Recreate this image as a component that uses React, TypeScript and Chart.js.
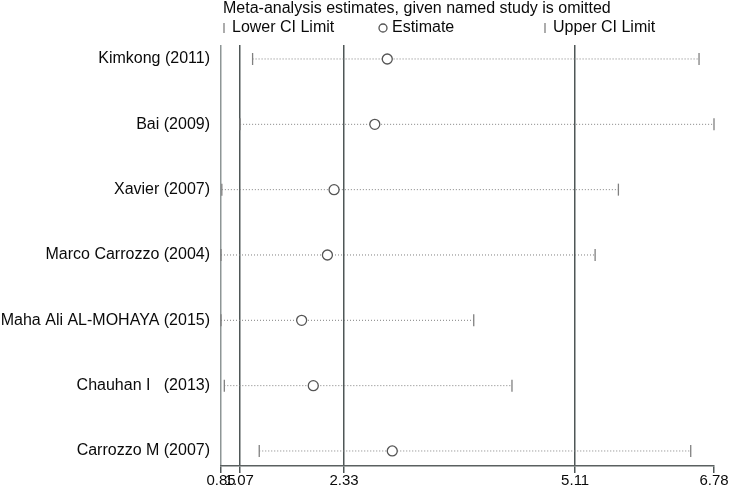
import { useEffect, useRef } from "react";
import { Chart, registerables } from "chart.js";

Chart.register(...registerables);

const titleText = "Meta-analysis estimates, given named study is omitted";
const studies = [
  "Kimkong (2011)",
  "Bai (2009)",
  "Xavier (2007)",
  "Marco Carrozzo (2004)",
  "Maha Ali AL-MOHAYA (2015)",
  "Chauhan I   (2013)",
  "Carrozzo M (2007)",
];
const lowerCI = [1.23, 1.08, 0.86, 0.85, 0.85, 0.89, 1.31];
const estimate = [2.85, 2.7, 2.21, 2.13, 1.82, 1.96, 2.91];
const upperCI = [6.6, 6.78, 5.63, 5.35, 3.89, 4.35, 6.5];
const xTicks = [0.85, 1.07, 2.33, 5.11, 6.78];
const legendLabels = ["Lower CI Limit", "Estimate", "Upper CI Limit"];

const FONT = '"Liberation Sans", Arial, Helvetica, sans-serif';

const stataLegend = {
  id: "stataLegend",
  afterDraw(chart: any) {
    const ctx = chart.ctx as CanvasRenderingContext2D;
    ctx.save();
    ctx.font = `16px ${FONT}`;
    ctx.fillStyle = "#0a0a0a";
    ctx.textBaseline = "middle";
    ctx.textAlign = "left";
    ctx.fillText(titleText, 223, 9);
    const ly = 28;
    ctx.strokeStyle = "#808080";
    ctx.lineWidth = 1.3;
    ctx.beginPath();
    ctx.moveTo(224, ly - 5);
    ctx.lineTo(224, ly + 5);
    ctx.stroke();
    ctx.fillText(legendLabels[0], 232, ly);
    ctx.strokeStyle = "#555";
    ctx.beginPath();
    ctx.arc(383, ly, 4, 0, Math.PI * 2);
    ctx.stroke();
    ctx.fillText(legendLabels[1], 392, ly);
    ctx.strokeStyle = "#808080";
    ctx.beginPath();
    ctx.moveTo(545, ly - 5);
    ctx.lineTo(545, ly + 5);
    ctx.stroke();
    ctx.fillText(legendLabels[2], 553, ly);
    ctx.restore();
  },
};

export default function App() {
  const ref = useRef<HTMLCanvasElement | null>(null);

  useEffect(() => {
    if (!ref.current) return;
    const spanSets = studies.map((_, i) => ({
      label: "span" + i,
      data: [
        { x: lowerCI[i], y: i },
        { x: upperCI[i], y: i },
      ],
      showLine: true,
      borderColor: "#808080",
      borderWidth: 1,
      borderDash: [1, 2],
      pointRadius: 0,
      clip: false as any,
      order: 3,
    }));
    const chart = new Chart(ref.current, {
      type: "scatter",
      data: {
        datasets: [
          ...spanSets,
          {
            label: legendLabels[0],
            data: lowerCI.map((v, i) => ({ x: v, y: i })),
            pointStyle: "line",
            rotation: 90,
            pointRadius: 6,
            borderColor: "#808080",
            borderWidth: 1.3,
            clip: false as any,
            order: 2,
          },
          {
            label: legendLabels[2],
            data: upperCI.map((v, i) => ({ x: v, y: i })),
            pointStyle: "line",
            rotation: 90,
            pointRadius: 6,
            borderColor: "#808080",
            borderWidth: 1.3,
            clip: false as any,
            order: 2,
          },
          {
            label: legendLabels[1],
            data: estimate.map((v, i) => ({ x: v, y: i })),
            pointStyle: "circle",
            pointRadius: 5,
            borderColor: "#555",
            backgroundColor: "#fff",
            borderWidth: 1.3,
            clip: false as any,
            order: 1,
          },
        ] as any,
      },
      options: {
        animation: false,
        responsive: false,
        devicePixelRatio: 1,
        layout: { padding: { top: 45, right: 20, left: 0, bottom: 0 } },
        plugins: {
          legend: { display: false },
          title: { display: false },
          tooltip: { enabled: false },
        },
        scales: {
          x: {
            type: "linear",
            min: 0.85,
            max: 6.78,
            afterBuildTicks: (scale: any) => {
              scale.ticks = xTicks.map((v) => ({ value: v }));
            },
            afterFit: (scale: any) => {
              scale.height = 25;
            },
            ticks: {
              autoSkip: false,
              maxRotation: 0,
              minRotation: 0,
              padding: 0,
              color: "#0a0a0a",
              font: { family: FONT, size: 15, lineHeight: 1 },
              callback: (v: any) => Number(v).toFixed(2),
            },
            grid: {
              color: (c: any) => {
                const v = c.tick ? c.tick.value : null;
                if (v === 6.78) return "rgba(0,0,0,0)";
                if (v === 0.85) return "#8e9696";
                return "#4f5757";
              },
              lineWidth: 1.5,
              tickColor: "#4f5757",
              tickLength: 7,
              drawTicks: true,
            },
            border: { display: true, color: "#5a6060", width: 1.5 },
          },
          y: {
            type: "linear",
            reverse: true,
            min: -0.214,
            max: 6.23,
            afterBuildTicks: (scale: any) => {
              scale.ticks = studies.map((_, i) => ({ value: i }));
            },
            afterFit: (scale: any) => {
              scale.width = 221;
            },
            ticks: {
              autoSkip: false,
              padding: 11,
              color: "#0a0a0a",
              font: { family: FONT, size: 16 },
              callback: (v: any) => studies[v] ?? "",
            },
            grid: { display: false, drawTicks: false },
            border: { display: false },
          },
        },
      },
      plugins: [stataLegend],
    });
    return () => chart.destroy();
  }, []);

  return (
    <div style={{ position: "absolute", left: 0, top: 0, width: 734, height: 491, background: "#fff" }}>
      <canvas ref={ref} width={734} height={491} style={{ width: 734, height: 491 }} />
    </div>
  );
}
